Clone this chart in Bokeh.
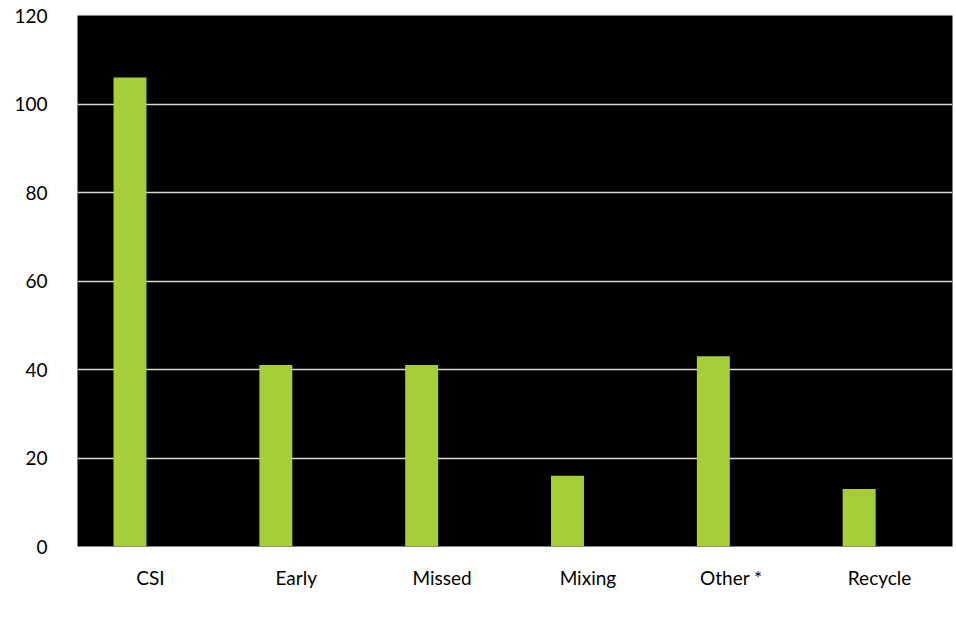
from bokeh.plotting import figure
from bokeh.models import ColumnDataSource, FactorRange, Range1d, FixedTicker, Legend, LegendItem
from bokeh.transform import dodge
from bokeh.embed import file_html
from bokeh.resources import INLINE

categories = ["CSI", "Early", "Missed", "Mixing", "Other  *", "Recycle"]
values_2018 = [106, 41, 41, 16, 43, 13]
series_name = "2018, (260)"
footnote = "* Common complaint types include overflowing dumpsters"
y_ticks = [0, 20, 40, 60, 80, 100, 120]

FONT = "Lato"

src = ColumnDataSource(dict(cat=categories, val=values_2018))

p = figure(width=956, height=643, frame_width=875, frame_height=531,
           output_backend="svg", toolbar_location=None,
           x_range=FactorRange(*categories, range_padding=0), y_range=Range1d(0, 120),
           min_border_left=77, min_border_right=4, min_border_top=15, min_border_bottom=97)

p.background_fill_color = "black"
p.border_fill_color = "white"
p.outline_line_color = None

r = p.vbar(x=dodge("cat", -0.14, range=p.x_range), top="val", width=0.226, bottom=0,
           source=src, fill_color="#A6CE39", line_color=None)
# invisible renderers: only carry the footnote text / trailing spacer in the legend row
note_r = p.vbar(x=[], top=[], width=0.2, fill_alpha=0, line_alpha=0)
pad_r = p.vbar(x=[], top=[], width=0.2, fill_alpha=0, line_alpha=0)

p.xgrid.grid_line_color = None
p.ygrid.grid_line_color = "#d9d9d9"
p.ygrid.grid_line_width = 1.5
p.yaxis.ticker = FixedTicker(ticks=y_ticks)

for ax in (p.xaxis, p.yaxis):
    ax.axis_line_color = None
    ax.major_tick_line_color = None
    ax.minor_tick_line_color = None
    ax.major_label_text_font = FONT
    ax.major_label_text_font_size = "19px"
    ax.major_label_text_color = "black"
p.xaxis.major_label_standoff = 13
p.yaxis.major_label_standoff = 24

legend = Legend(items=[LegendItem(label=series_name, renderers=[r]),
                       LegendItem(label=footnote, renderers=[note_r]),
                       LegendItem(label="     ", renderers=[pad_r])],
                orientation="horizontal", location="top_center", spacing=73,
                padding=0, margin=0, border_line_color=None, background_fill_alpha=0,
                glyph_width=13, glyph_height=13, label_standoff=6, label_height=13,
                label_text_font=FONT, label_text_font_size="19px", label_text_color="#595959")
p.add_layout(legend, "below")

open("out.html", "w").write(file_html(p, INLINE))
